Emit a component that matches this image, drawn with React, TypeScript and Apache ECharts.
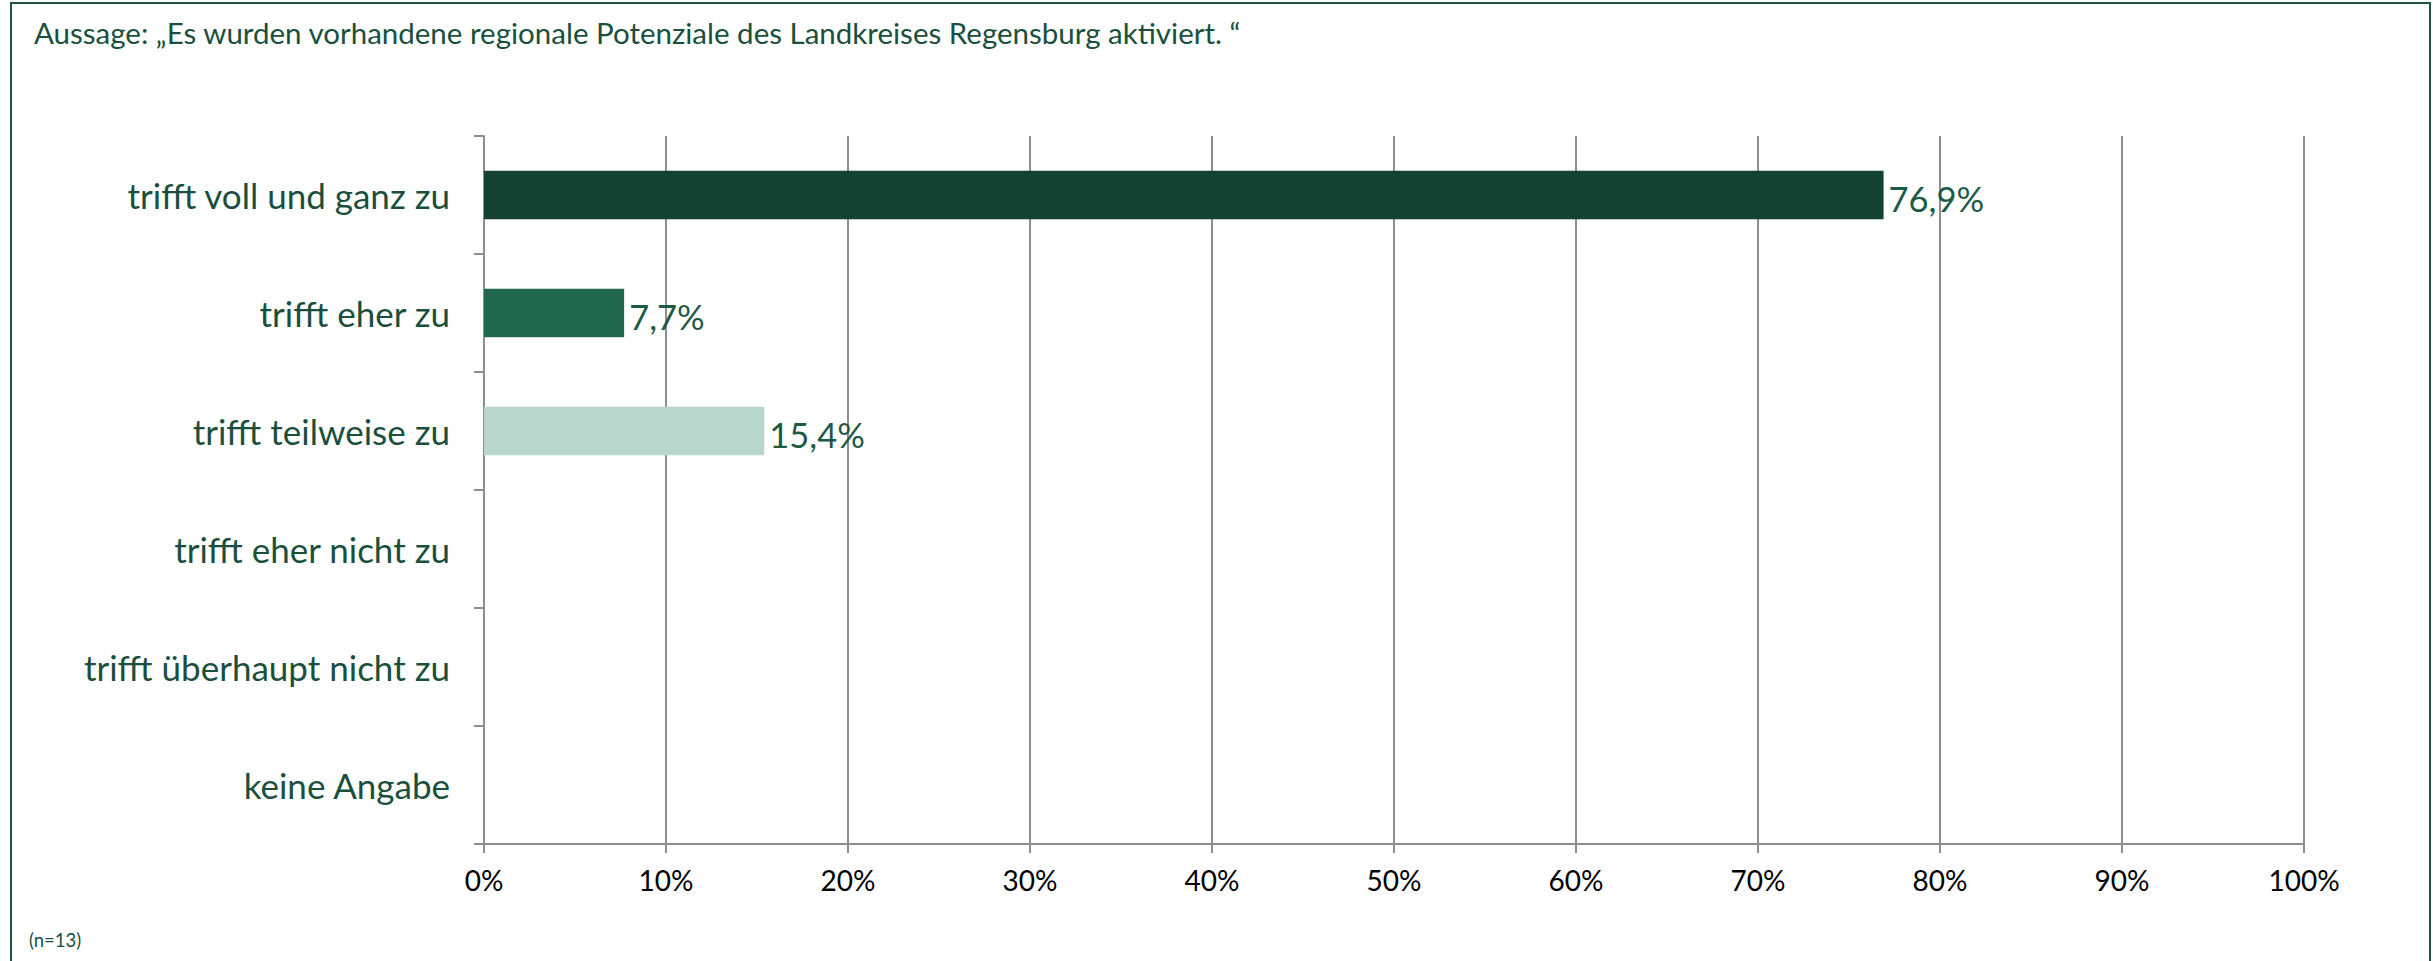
import React, { useEffect, useRef } from "react";
import * as echarts from "echarts";

const titleText = "Aussage: „Es wurden vorhandene regionale Potenziale des Landkreises Regensburg aktiviert. “";
const noteText = "(n=13)";
const categories = [
  "trifft voll und ganz zu",
  "trifft eher zu",
  "trifft teilweise zu",
  "trifft eher nicht zu",
  "trifft überhaupt nicht zu",
  "keine Angabe",
];
const values = [76.9, 7.7, 15.4, 0, 0, 0];
const barColors = ["#134233", "#21674d", "#b9d6cc", "#134233", "#134233", "#134233"];
const xTicks = { min: 0, max: 100, interval: 10 };

const TEXT_GREEN = "#1b4f3d";
const GRID_GRAY = "#8e8e8e";
const FONT = "Lato, 'Noto Sans', sans-serif";

export default function App() {
  const ref = useRef<HTMLDivElement>(null);
  useEffect(() => {
    if (!ref.current) return;
    const chart = echarts.init(ref.current, undefined, { renderer: "svg" });
    chart.setOption({
      animation: false,
      backgroundColor: "#ffffff",
      textStyle: { fontFamily: FONT },
      title: {
        text: titleText,
        left: 29,
        top: 12,
        textStyle: { fontSize: 29.5, fontWeight: "normal", color: TEXT_GREEN, fontFamily: FONT },
      },
      graphic: [
        {
          type: "rect",
          shape: { x: 11, y: 3, width: 2419, height: 1000 },
          style: { fill: "none", stroke: "#1f5642", lineWidth: 2 },
          silent: true,
          z: 100,
        },
        {
          type: "text",
          left: 29,
          top: 930,
          style: { text: noteText, fontSize: 18.5, fill: TEXT_GREEN, fontFamily: FONT },
        },
      ],
      grid: { left: 484, right: 129, top: 136, bottom: 117, containLabel: false },
      xAxis: {
        type: "value",
        min: xTicks.min,
        max: xTicks.max,
        interval: xTicks.interval,
        axisLabel: {
          formatter: "{value}%",
          fontSize: 28,
          color: "#000000",
          margin: 22,
          fontFamily: FONT,
        },
        axisLine: { show: true, lineStyle: { color: GRID_GRAY, width: 2 } },
        axisTick: { show: true, length: 9, lineStyle: { color: GRID_GRAY, width: 2 } },
        splitLine: { show: true, lineStyle: { color: GRID_GRAY, width: 2 } },
      },
      yAxis: {
        type: "category",
        inverse: true,
        data: categories,
        axisLabel: { fontSize: 35, color: TEXT_GREEN, margin: 34, fontFamily: FONT },
        axisLine: { show: true, lineStyle: { color: GRID_GRAY, width: 2 } },
        axisTick: { show: true, length: 10, interval: 0, lineStyle: { color: GRID_GRAY, width: 2 } },
        splitLine: { show: false },
      },
      series: [
        {
          type: "bar",
          data: values.map((v, i) => ({ value: v, itemStyle: { color: barColors[i] } })),
          barCategoryGap: "59%",
          label: {
            show: true,
            position: "right",
            distance: 5,
            fontSize: 34.5,
            color: "#1d5a45",
            fontFamily: FONT,
            offset: [0, 3],
            formatter: (p: any) => (p.value > 0 ? p.value.toFixed(1).replace(".", ",") + "%" : ""),
          },
        },
      ],
    });
    return () => chart.dispose();
  }, []);
  return (
    <div
      ref={ref}
      style={{ position: "absolute", left: 0, top: 0, width: 2433, height: 961 }}
    />
  );
}
